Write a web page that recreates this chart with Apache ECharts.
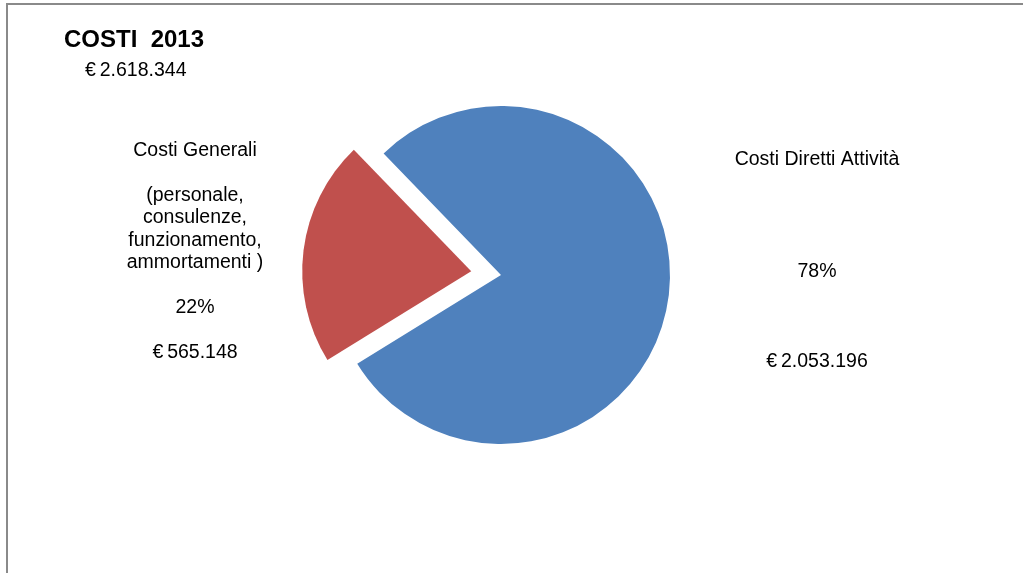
<!DOCTYPE html>
<html>
<head>
<meta charset="utf-8">
<script src="https://cdn.jsdelivr.net/npm/echarts@6/dist/echarts.min.js"></script>
<style>
html,body{margin:0;padding:0;background:#fff;}
#chart{width:1023px;height:573px;}
</style>
</head>
<body>
<div id="chart"></div>
<script>
var titleText = 'COSTI  2013';
var categories = ['Costi Diretti Attività', 'Costi Generali'];
var subLabels = ['', '(personale,\nconsulenze,\nfunzionamento,\nammortamenti )'];
var values = [2053196, 565148];
var colors = ['#4F81BD', '#C0504D'];

function fmtEuro(v) {
  return '€\u202F' + String(v).replace(/\B(?=(\d{3})+(?!\d))/g, '.');
}
var total = values.reduce(function (a, b) { return a + b; }, 0);

var labelPos = [
  { x: 817, y: 260.5 },
  { x: 195, y: 251.5 }
];

var pieCommon = {
  type: 'pie',
  center: [501, 275],
  radius: 169,
  startAngle: 134,
  clockwise: true,
  emphasis: { disabled: true }
};

var chart = echarts.init(document.getElementById('chart'));
chart.setOption({
  animation: false,
  title: [
    { text: titleText, left: 59, top: 23,
      textStyle: { fontFamily: 'Liberation Sans', fontWeight: 'bold', fontSize: 24, color: '#000' } },
    { text: fmtEuro(total), left: 80, top: 56,
      textStyle: { fontFamily: 'Liberation Sans', fontWeight: 'normal', fontSize: 19.5, color: '#000' } }
  ],
  graphic: [
    { type: 'polyline', shape: { points: [[7, 573], [7, 4], [1023, 4]] },
      style: { stroke: '#8a8a8a', lineWidth: 2, fill: null }, silent: true }
  ],
  series: [
    Object.assign({}, pieCommon, {
      selectedMode: 'single',
      selectedOffset: 30,
      itemStyle: { borderWidth: 0 },
      label: { show: false },
      labelLine: { show: false },
      data: categories.map(function (c, i) {
        return { name: c, value: values[i], selected: i === 1, itemStyle: { color: colors[i] } };
      })
    }),
    Object.assign({}, pieCommon, {
      silent: true,
      selectedMode: false,
      itemStyle: { color: 'rgba(0,0,0,0)', borderWidth: 0 },
      labelLine: { show: false },
      label: {
        show: true,
        position: 'inside',
        fontFamily: 'Liberation Sans',
        fontSize: 19.5,
        lineHeight: 22.5,
        color: '#000',
        align: 'center',
        formatter: function (p) {
          var idx = p.dataIndex;
          var parts = [p.name, ''];
          if (subLabels[idx]) {
            parts.push(subLabels[idx]);
            parts.push('');
          } else {
            parts.push('', '', '');
          }
          parts.push(Math.round(p.percent) + '%');
          if (subLabels[idx]) {
            parts.push('');
          } else {
            parts.push('', '', '');
          }
          parts.push(fmtEuro(p.value));
          return parts.join('\n');
        }
      },
      labelLayout: function (params) {
        var pos = labelPos[params.dataIndex];
        return { x: pos.x, y: pos.y, align: 'center', verticalAlign: 'middle', hideOverlap: false };
      },
      data: categories.map(function (c, i) {
        return { name: c, value: values[i] };
      })
    })
  ]
});
</script>
</body>
</html>
